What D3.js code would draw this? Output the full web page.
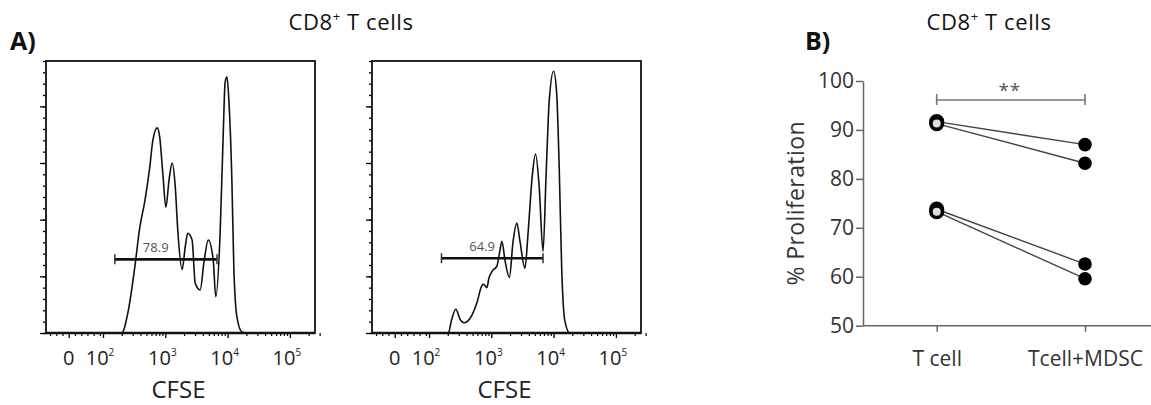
<!DOCTYPE html>
<html lang="en">
<head>
<meta charset="utf-8">
<title>CD8+ T cells - CFSE proliferation</title>
<script src="https://d3js.org/d3.v7.min.js"></script>
<style>
    body { margin: 0; background: #fff; }
    svg { display: block; font-family: "Open Sans", sans-serif; }
</style>
</head>
<body>
<div id="chart"></div>
<script>
// ---- panel A data: CFSE histograms (x = log10 intensity, y = events) ----
var histU1 = [1.09, 2.30, 2.40, 2.51, 2.59, 2.67, 2.75, 2.80, 2.87, 2.91, 2.96, 3.01, 3.06, 3.11, 3.16, 3.20, 3.27, 3.32, 3.36, 3.43, 3.48, 3.56, 3.62, 3.69, 3.77, 3.81, 3.88, 3.93, 3.96, 3.99, 4.02, 4.07, 4.10, 4.15, 4.23, 4.31, 5.40];
var histC1 = [0, 0, 18, 58, 93, 116, 146, 170, 181, 173, 141, 111, 135, 150, 129, 91, 56, 76, 88, 82, 44, 38, 62, 82, 64, 32, 88, 176, 221, 226, 206, 132, 58, 14, 1, 0, 0];
var histU2 = [1.09, 2.31, 2.36, 2.43, 2.50, 2.56, 2.66, 2.77, 2.85, 2.88, 2.93, 2.96, 3.02, 3.09, 3.13, 3.17, 3.22, 3.29, 3.35, 3.41, 3.46, 3.54, 3.59, 3.66, 3.71, 3.77, 3.83, 3.88, 3.93, 4.00, 4.05, 4.09, 4.13, 4.18, 4.26, 5.40];
var histC2 = [0, 0, 11, 21, 12, 9, 13, 27, 42, 43, 40, 48, 55, 59, 70, 81, 64, 49, 81, 97, 81, 57, 88, 140, 158, 128, 72, 140, 205, 231, 211, 146, 57, 11, 0, 0];

var gateLo = [2.19, 2.20];
var gateHi = [3.83, 3.83];
var gateLevel = [65, 66];
var gateLabel = ["78.9", "64.9"];

// logicle-like axis: "0" sits half a decade below 10^2
var xTickU = [1.45, 2, 3, 4, 5];
var xTickBase = ["0", "10", "10", "10", "10"];
var xTickExp = ["", "2", "3", "4", "5"];

// ---- panel B data: % proliferation ----
var groups = ["T cell", "Tcell+MDSC"];
var tcell = [91.7, 91.3, 73.8, 73.3];
var tcellMdsc = [87.0, 83.2, 62.6, 59.6];
var yTicksB = [50, 60, 70, 80, 90, 100];

var W = 1151, H = 405;
var svg = d3.select("#chart").append("svg")
    .attr("width", W)
    .attr("height", H);

function supText(g, x, y, base, sup, size, anchor) {
    var t = g.append("text")
        .attr("x", x).attr("y", y)
        .attr("text-anchor", anchor || "middle")
        .style("font-size", size + "px")
        .attr("fill", "#222");
    t.append("tspan").text(base);
    if (sup) {
        t.append("tspan").attr("dy", -size * 0.45)
            .style("font-size", (size * 0.5) + "px").text(sup);
    }
    return t;
}

function title(x) {
    var t = svg.append("text")
        .attr("x", x).attr("y", 30)
        .attr("text-anchor", "middle")
        .style("font-size", "22px")
        .style("letter-spacing", "0.6px")
        .attr("fill", "#111");
    t.append("tspan").text("CD8");
    t.append("tspan").attr("dy", -9).style("font-size", "13px").text("+");
    t.append("tspan").attr("dy", 9).text(" T cells");
}
title(351);
title(989);

svg.append("text").attr("x", 10).attr("y", 50)
    .style("font-size", "25px").style("font-weight", "bold").attr("fill", "#111")
    .text("A)");
svg.append("text").attr("x", 805).attr("y", 50)
    .style("font-size", "25px").style("font-weight", "bold").attr("fill", "#111")
    .text("B)");

// ---- panel A ----
var frameTop = 61, frameW = 269, frameH = 272;
var panelLeft = [46, 372];
var hists = [[histU1, histC1], [histU2, histC2]];

var x = d3.scaleLinear().domain([1.085, 5.403]).range([0, frameW]);
var y = d3.scaleLinear().domain([0, 240]).range([frameH, 0]);

// minor ticks on the x axis
var xMinor = [1.15, 1.25, 1.35, 1.55, 1.65, 1.75, 1.85, 1.95];
[2, 3, 4].forEach(function(d) {
    for (var k = 2; k <= 9; k++) xMinor.push(d + Math.log10(k));
});
xMinor.push(5 + Math.log10(2), 5 + Math.log10(3));

var line = d3.line()
    .x(function(d) { return x(d[0]); })
    .y(function(d) { return y(d[1]); })
    .curve(d3.curveMonotoneX);

panelLeft.forEach(function(left, i) {
    var g = svg.append("g").attr("transform", "translate(" + left + "," + frameTop + ")");

    // y ticks (left, outward)
    g.append("g")
        .call(d3.axisLeft(y).tickValues(d3.range(0, 241, 10)).tickSize(3).tickFormat(""))
        .call(function(a) { a.select(".domain").remove(); a.selectAll("line").attr("stroke-width", 1.3); });
    g.append("g")
        .call(d3.axisLeft(y).tickValues([0, 50, 100, 150, 200]).tickSize(6).tickFormat(""))
        .call(function(a) { a.select(".domain").remove(); a.selectAll("line").attr("stroke-width", 1.3); });

    // x ticks (below baseline)
    g.append("g").attr("transform", "translate(0," + frameH + ")")
        .call(d3.axisBottom(x).tickValues(xMinor).tickSize(3).tickFormat(""))
        .call(function(a) { a.select(".domain").remove(); a.selectAll("line").attr("stroke-width", 1.2); });
    g.append("g").attr("transform", "translate(0," + frameH + ")")
        .call(d3.axisBottom(x).tickValues(xTickU).tickSize(5).tickFormat(""))
        .call(function(a) { a.select(".domain").remove(); a.selectAll("line").attr("stroke-width", 1.3); });

    xTickU.forEach(function(u, j) {
        supText(g, x(u) - (j ? 3 : 0), frameH + 32, xTickBase[j], xTickExp[j], 20, "middle");
    });

    g.append("text")
        .attr("x", frameW / 2 - 2).attr("y", frameH + 65)
        .attr("text-anchor", "middle")
        .style("font-size", "24px").attr("fill", "#222")
        .text("CFSE");

    // histogram
    var pts = hists[i][0].map(function(u, j) { return [u, hists[i][1][j]]; });
    g.append("path")
        .datum(pts)
        .attr("d", line)
        .attr("fill", "none")
        .attr("stroke", "#111")
        .attr("stroke-width", 1.6);

    // frame
    g.append("rect")
        .attr("width", frameW).attr("height", frameH)
        .attr("fill", "none").attr("stroke", "#111").attr("stroke-width", 1.8);
    g.append("line")
        .attr("x1", 0).attr("x2", frameW)
        .attr("y1", frameH).attr("y2", frameH)
        .attr("stroke", "#111").attr("stroke-width", 2.6);

    // gate
    var gy = y(gateLevel[i]);
    g.append("line")
        .attr("x1", x(gateLo[i])).attr("x2", x(gateHi[i]))
        .attr("y1", gy).attr("y2", gy)
        .attr("stroke", "#111").attr("stroke-width", 2.6);
    [gateLo[i], gateHi[i]].forEach(function(u) {
        g.append("line")
            .attr("x1", x(u)).attr("x2", x(u))
            .attr("y1", gy - 5).attr("y2", gy + 5)
            .attr("stroke", "#333").attr("stroke-width", 1.5);
    });
    g.append("text")
        .attr("x", x(gateLo[i] + 0.4 * (gateHi[i] - gateLo[i])))
        .attr("y", gy - 7)
        .attr("text-anchor", "middle")
        .style("font-size", "13px").attr("fill", "#555")
        .text(gateLabel[i]);
});

// ---- panel B ----
var by = d3.scaleLinear().domain([50, 100]).range([325.7, 81]);
var bx = d3.scalePoint().domain(groups).range([936.7, 1085]);
var axisX0 = 863;

var yAxis = svg.append("g").attr("transform", "translate(" + axisX0 + ",0)")
    .call(d3.axisLeft(by).tickValues(yTicksB).tickSize(7).tickPadding(2).tickSizeOuter(0));
yAxis.select(".domain").attr("stroke", "#666").attr("stroke-width", 1.5);
yAxis.selectAll("line").attr("stroke", "#666").attr("stroke-width", 1.5);
yAxis.selectAll("text").style("font-size", "21px").style("font-family", "'Open Sans', sans-serif").attr("fill", "#333");

svg.append("line")
    .attr("x1", axisX0).attr("x2", W)
    .attr("y1", by(50)).attr("y2", by(50))
    .attr("stroke", "#666").attr("stroke-width", 1.5);
var xAxis = svg.append("g").attr("transform", "translate(0," + by(50) + ")")
    .call(d3.axisBottom(bx).tickSize(6).tickPadding(19));
xAxis.select(".domain").remove();
xAxis.selectAll("line").attr("stroke", "#666").attr("stroke-width", 1.5);
xAxis.selectAll("text").style("font-size", "21px").style("font-family", "'Open Sans', sans-serif").attr("fill", "#333");

svg.append("text")
    .attr("transform", "translate(804," + (by(50) + by(100)) / 2 + ") rotate(-90)")
    .attr("text-anchor", "middle")
    .style("font-size", "23px").style("letter-spacing", "0.4px").attr("fill", "#333")
    .text("% Proliferation");

// significance bracket
var brY = 100;
svg.append("path")
    .attr("d", "M" + bx(groups[0]) + "," + (brY - 6) + "V" + (brY + 5) + "M" + bx(groups[0]) + "," + brY +
        "H" + bx(groups[1]) + "M" + bx(groups[1]) + "," + (brY - 6) + "V" + (brY + 5))
    .attr("fill", "none").attr("stroke", "#777").attr("stroke-width", 1.6);
svg.append("text")
    .attr("x", (bx(groups[0]) + bx(groups[1])) / 2 - 1)
    .attr("y", 97)
    .attr("text-anchor", "middle")
    .style("font-size", "19px").style("letter-spacing", "1px").attr("fill", "#555")
    .text("**");

// paired lines
tcell.forEach(function(v, i) {
    svg.append("line")
        .attr("x1", bx(groups[0])).attr("y1", by(v))
        .attr("x2", bx(groups[1])).attr("y2", by(tcellMdsc[i]))
        .attr("stroke", "#444").attr("stroke-width", 1.4);
});
svg.selectAll("circle.mdsc")
    .data(tcellMdsc).enter().append("circle")
    .attr("class", "mdsc")
    .attr("cx", bx(groups[1])).attr("cy", function(d) { return by(d); })
    .attr("r", 6.8).attr("fill", "#000");
svg.selectAll("circle.tc")
    .data(tcell).enter().append("circle")
    .attr("class", "tc")
    .attr("cx", bx(groups[0])).attr("cy", function(d) { return by(d); })
    .attr("r", 5.8).attr("fill", "#ddd")
    .attr("stroke", "#000").attr("stroke-width", 3.6);
</script>
</body>
</html>
